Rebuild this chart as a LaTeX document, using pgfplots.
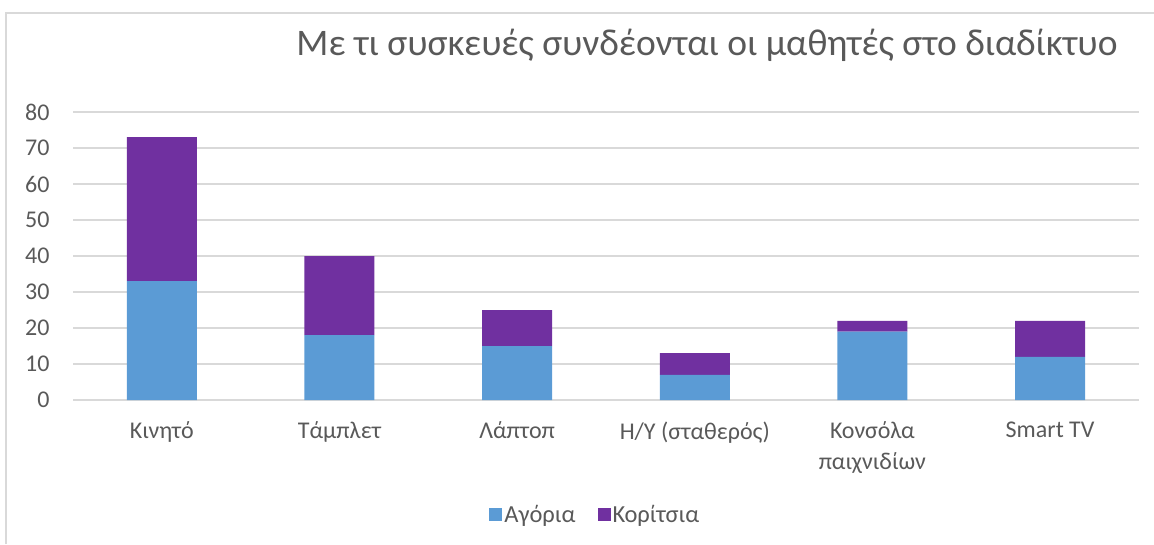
\documentclass[border=0pt]{standalone}
\usepackage{pgfplots}
\pgfplotsset{compat=1.18}
\usepackage{fontspec}
\setmainfont{Carlito}
\definecolor{boys}{HTML}{5B9BD5}
\definecolor{girls}{HTML}{7030A0}
\definecolor{txt}{HTML}{595959}
\definecolor{grd}{HTML}{D9D9D9}
\begin{document}
\begin{tikzpicture}[x=1pt,y=1pt]
\path[use as bounding box] (0,0) rectangle (1154,544);
\draw[grd, line width=1.2pt] (6,0) -- (6,531) -- (1154,531);
\node[font=\fontsize{37.5}{44}\selectfont, text=txt] at (707,499) {Με τι συσκευές συνδέονται οι μαθητές στο διαδίκτυο};
\begin{axis}[
  at={(73pt,144pt)}, anchor=south west,
  scale only axis, width=1066pt, height=288pt,
  ybar stacked, bar width=70pt,
  xmin=-0.5, xmax=5.5, ymin=0, ymax=80,
  xtick={0,1,2,3,4,5},
  xticklabels={Κινητό, Τάμπλετ, Λάπτοπ, Η/Υ (σταθερός), {Κονσόλα\\παιχνιδίων}, Smart TV},
  ytick={0,10,...,80},
  ymajorgrids, grid style={grd, line width=1.5pt},
  axis line style={draw=none},
  major tick length=0pt,
  tick label style={font=\fontsize{24}{29}\selectfont, text=txt},
  xticklabel style={align=center, anchor=north, yshift=-18pt, font=\fontsize{24}{31}\selectfont},
  yticklabel style={anchor=east, xshift=-20pt},
  /pgf/number format/assume math mode=true,
  legend style={at={(0.49,-0.399)}, anchor=center, draw=none, legend columns=2,
    font=\fontsize{24.5}{28}\selectfont, text=txt,
    /tikz/every even column/.append style={column sep=20pt}},
  legend cell align=left,
]
\addplot[fill=boys, draw=none, legend image code/.code={\fill[boys] (0pt,-6.5pt) rectangle (13pt,6.5pt);}] coordinates {(0,33) (1,18) (2,15) (3,7) (4,19) (5,12)};
\addplot[fill=girls, draw=none, legend image code/.code={\fill[girls] (0pt,-6.5pt) rectangle (13pt,6.5pt);}] coordinates {(0,40) (1,22) (2,10) (3,6) (4,3) (5,10)};
\legend{Αγόρια, Κορίτσια}
\end{axis}
\end{tikzpicture}
\end{document}
